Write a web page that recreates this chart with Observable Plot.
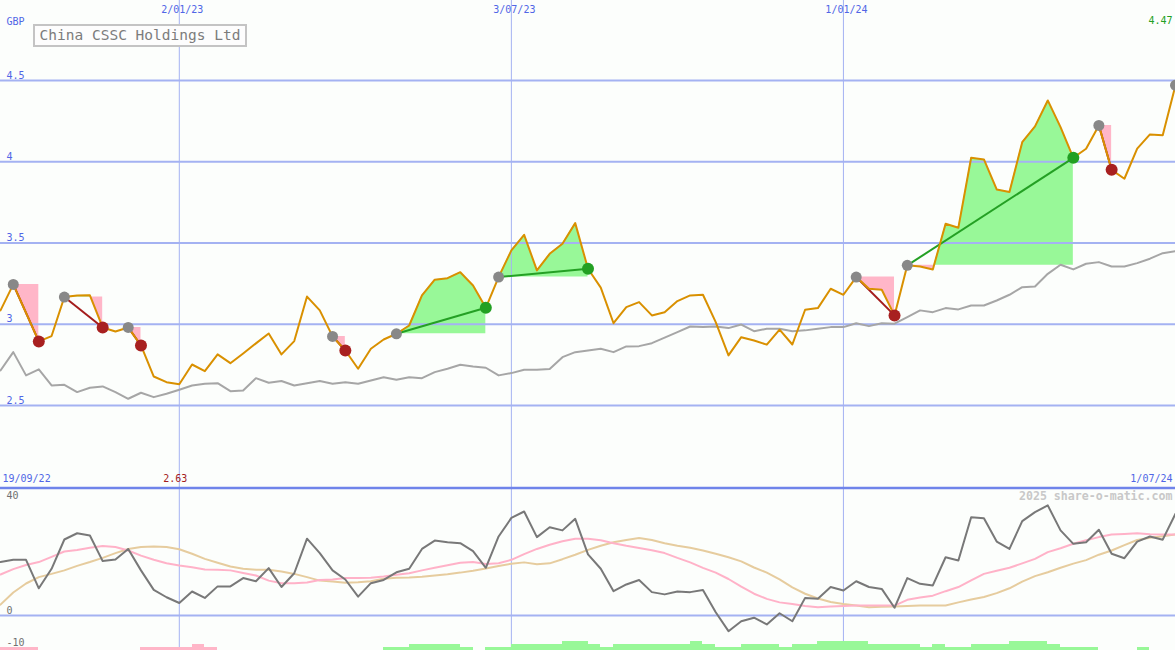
<!DOCTYPE html>
<html><head><meta charset="utf-8">
<script src="https://cdn.jsdelivr.net/npm/d3@7"></script>
<script src="https://cdn.jsdelivr.net/npm/@observablehq/plot@0.6"></script>
<style>
html,body{margin:0;padding:0;background:#fcfefc;}
#wrap{position:relative;width:1175px;height:650px;overflow:hidden;}
#wrap svg{display:block;}
#title{position:absolute;z-index:2;left:33px;top:24px;width:210px;height:19px;border:2px solid #c4c4c4;background:#fdfdfd;font:14.5px "DejaVu Sans Mono",monospace;color:#7c7c7c;line-height:19px;text-align:center;white-space:nowrap;}
</style></head><body>
<div id="wrap"><div id="title">China CSSC Holdings Ltd</div></div>
<script>
// ---- data (weekly, starting 26/09/22) ----
const firstWeek = "2022-09-26";
const price = [3.085,3.245,3.07,2.894,2.927,3.167,3.176,3.178,2.98,2.955,2.98,2.869,2.678,2.643,2.63,2.752,2.711,2.814,2.76,2.82,2.882,2.943,2.814,2.896,3.17,3.085,2.925,2.838,2.726,2.849,2.906,2.941,2.992,3.177,3.274,3.283,3.32,3.238,3.101,3.29,3.454,3.55,3.331,3.433,3.495,3.622,3.341,3.225,3.006,3.105,3.136,3.054,3.074,3.142,3.177,3.181,3.013,2.808,2.92,2.9,2.874,2.966,2.875,3.089,3.099,3.218,3.181,3.29,3.218,3.212,3.054,3.362,3.355,3.337,3.618,3.594,4.024,4.014,3.829,3.813,4.12,4.217,4.377,4.213,4.024,4.08,4.223,3.95,3.895,4.08,4.168,4.162,4.47];
const movingAvg = [2.715,2.828,2.685,2.722,2.623,2.627,2.582,2.609,2.617,2.582,2.541,2.578,2.551,2.572,2.597,2.623,2.633,2.637,2.588,2.592,2.668,2.64,2.65,2.623,2.637,2.65,2.633,2.643,2.633,2.654,2.674,2.658,2.674,2.668,2.705,2.726,2.75,2.74,2.732,2.685,2.699,2.72,2.72,2.724,2.797,2.828,2.838,2.849,2.828,2.863,2.865,2.883,2.917,2.951,2.986,2.982,2.986,2.976,2.998,2.957,2.972,2.972,2.957,2.962,2.972,2.982,2.982,3.006,2.988,3.006,3.003,3.043,3.085,3.074,3.099,3.091,3.115,3.115,3.146,3.181,3.228,3.232,3.31,3.366,3.337,3.372,3.382,3.355,3.355,3.376,3.403,3.437,3.449];
const oscillator = [16.7,17.4,17.4,8.5,14.6,23.75,25.7,25,17,17.5,20.8,14.1,8.0,5.7,3.9,7.5,5.5,9.1,9.1,11.7,10.7,14.8,8.9,13.2,24.0,19.5,14.1,11.25,5.9,10.1,11.1,13.5,14.6,20.8,23.4,22.9,22.6,20.1,14.9,24.7,30.5,32.5,24.5,27.6,26.6,30.2,19.1,14.6,7.6,9.7,11.1,7.3,6.6,7.5,7.3,8.0,1.0,-4.9,-1.8,-0.7,-2.8,0.7,-1.8,5.5,5.2,8.9,7.8,10.7,8.9,8.3,2.4,11.7,9.9,9.4,18.2,17.2,30.7,30.4,23.1,20.8,29.5,32.3,34.4,26.6,22.4,22.9,26.8,19.3,17.9,23.1,24.7,23.7,31.8];
const oscFast = [12.8,14.5,15.8,16.7,18.3,20.0,20.5,21.2,21.7,21.4,20.3,18.7,17.4,16.3,15.6,15.1,14.4,14.3,14.1,13.3,12.5,10.9,10.1,10.1,10.3,11.1,11.25,11.7,11.7,11.8,12.2,12.7,13.2,14.1,14.9,15.7,16.5,16.7,16.1,16.3,17.4,19.2,20.8,22.1,23.2,24,24,23.5,22.6,21.8,21.1,20.4,19.5,18.0,16.6,14.9,13.4,11.4,9.0,6.8,5.2,4.1,3.6,3.0,2.6,2.8,3.0,3.1,3.1,3.1,3.1,4.9,5.6,6.2,7.6,8.9,11.0,13.0,14.0,14.9,16.3,17.7,19.8,21.0,22.4,23.5,24.5,25.3,25.5,25.7,25.4,25.3,25.3];
const oscSlow = [3.4,7.2,10.0,12.0,13.0,14.1,15.5,16.7,18.0,19.5,20.8,21.4,21.6,21.4,20.7,19.3,17.7,16.5,15.3,14.6,14.3,14.3,13.75,13.0,12.0,10.9,10.6,10.2,10.4,10.7,11.5,11.8,11.9,12.1,12.5,12.9,13.4,14.0,14.7,15.5,16.2,16.6,16.0,16.3,17.6,19.0,20.5,21.8,22.9,23.6,24.2,23.6,22.6,21.8,21.2,20.3,19.3,18.2,16.9,15.0,13.4,11.3,8.8,6.8,5.3,4.2,3.6,3.1,2.6,2.7,2.8,3.0,3.1,3.1,3.1,4.1,5.0,5.8,7.0,8.5,10.6,12.3,13.5,14.9,16.2,17.3,19.0,20.3,22.0,23.6,24.3,24.8,25.3];
// signed strength per week interval (green > 0, pink < 0)
const strength = [-1,-1,-1,0,0,0,0,0,0,0,0,-1,-1,-1,-1,-2,-1,0,0,0,0,0,0,0,0,0,0,0,0,0,1,1,2,2,2,2,1,0,1,1,2,2,2,2,3,3,2,1,2,2,2,2,2,2,3,2,1,1,2,2,2,1,2,2,3,3,3,3,2,2,2,2,1,2,1,1,2,2,2,3,3,3,2,1,1,1,0,0,0,1,0,0];
const signalType = ["sell","sell","sell","sell","buy","buy","sell","buy","sell"];
const signalStart = [1,5,10,26,31,39,67,71,86];
const signalEnd = [3,8,11,27,38,46,70,84,87];
const openSignal = [92];
const gridDates = ["2023-01-02","2023-07-03","2024-01-01"];
const gridLabels = ["2/01/23","3/07/23","1/01/24"];
const priceTicks = [2.5,3,3.5,4,4.5];
const priceTickLabels = ["2.5","3","3.5","4","4.5"];
const periodLabels = ["19/09/22","1/07/24"];
const currency = "GBP";
const watermark = "2025 share-o-matic.com";

// ---- styling ----
const BG = "#fcfefc", GRID = "#a4b2f2", LABEL = "#5066e6", MONO = "DejaVu Sans Mono";
const W = 1175, H1 = 487, H2 = 163;

const t0 = new Date(firstWeek + "T00:00:00Z");
const dates = price.map((_, i) => d3.utcDay.offset(t0, 7 * i));
const grid = gridDates.map(d => new Date(d + "T00:00:00Z"));
const xScale = {type: "utc", domain: [dates[0], dates[dates.length - 1]], axis: null};

const series = price.map((p, i) => ({t: dates[i], p, ma: movingAvg[i], o: oscillator[i], f: oscFast[i], s: oscSlow[i]}));

// signal fill between price and start level (green above, pink below)
const fillPts = [];
signalStart.forEach((a, si) => {
  const b = signalEnd[si], L = price[a];
  for (let k = a; k <= b; k++) {
    fillPts.push({id: si, t: dates[k], L, p: price[k]});
    if (k < b) {
      const p0 = price[k], p1 = price[k + 1];
      if ((p0 - L) * (p1 - L) < 0) {
        const f = (L - p0) / (p1 - p0);
        fillPts.push({id: si, t: new Date(+dates[k] + f * (dates[k + 1] - dates[k])), L, p: L});
      }
    }
  }
});
const signals = signalStart.map((a, si) => ({type: signalType[si], a, b: signalEnd[si]}));
const startPts = signalStart.concat(openSignal).map(k => ({t: dates[k], p: price[k]}));
const sellEnds = signals.filter(s => s.type === "sell").map(s => ({t: dates[s.b], p: price[s.b]}));
const buyEnds = signals.filter(s => s.type === "buy").map(s => ({t: dates[s.b], p: price[s.b]}));
const minIdx = d3.minIndex(price), lastIdx = price.length - 1;

const txt = {fontFamily: MONO, fontSize: 10, lineAnchor: "middle"};

const priceChart = Plot.plot({
  width: W, height: H1, marginTop: 0, marginBottom: 0, marginLeft: 0, marginRight: 0,
  x: xScale,
  y: {domain: [1.995, 4.992], axis: null},
  style: {background: BG, overflow: "visible"},
  marks: [
    Plot.areaY(fillPts, {x: "t", y1: "L", y2: d => Math.max(d.p, d.L), z: "id", fill: "#98f898"}),
    Plot.areaY(fillPts, {x: "t", y1: "L", y2: d => Math.min(d.p, d.L), z: "id", fill: "#ffb6c8"}),
    Plot.ruleY(priceTicks, {stroke: GRID, strokeWidth: 2}),
    Plot.ruleX(grid, {stroke: GRID, strokeWidth: 1}),
    Plot.line(series, {x: "t", y: "ma", stroke: "#a6a6a6", strokeWidth: 2}),
    Plot.link(signals, {x1: s => dates[s.a], y1: s => price[s.a], x2: s => dates[s.b], y2: s => price[s.b],
      stroke: s => s.type === "sell" ? "#a41c1c" : "#24a024", strokeWidth: 2}),
    Plot.line(series, {x: "t", y: "p", stroke: "#d99000", strokeWidth: 2}),
    Plot.dot(startPts, {x: "t", y: "p", r: 5.5, fill: "#888888"}),
    Plot.dot(sellEnds, {x: "t", y: "p", r: 6, fill: "#a82020"}),
    Plot.dot(buyEnds, {x: "t", y: "p", r: 6, fill: "#22a022"}),
    Plot.text(grid, {x: d => d, text: (d, i) => gridLabels[i], frameAnchor: "top", dy: 9, dx: 3, fill: LABEL, ...txt}),
    Plot.text(priceTicks, {y: d => d, text: (d, i) => priceTickLabels[i], frameAnchor: "left", textAnchor: "start", dx: 6, dy: -5, fill: LABEL, ...txt}),
    Plot.text([currency], {text: d => d, frameAnchor: "top-left", textAnchor: "start", dx: 6, dy: 21, fill: LABEL, ...txt}),
    Plot.text([lastIdx], {x: i => dates[i], text: i => price[i].toFixed(2), frameAnchor: "top", textAnchor: "end", dx: -3, dy: 20, fill: "#22a022", ...txt}),
    Plot.text([periodLabels[0]], {text: d => d, frameAnchor: "bottom-left", textAnchor: "start", dx: 2, dy: -9, fill: LABEL, ...txt}),
    Plot.text([periodLabels[1]], {text: d => d, frameAnchor: "bottom-right", textAnchor: "end", dx: -3, dy: -9, fill: LABEL, ...txt}),
    Plot.text([minIdx], {x: i => dates[i], text: i => price[i].toFixed(2), frameAnchor: "bottom", dx: -4, dy: -9, fill: "#a41c1c", ...txt})
  ]
});

const OSC_MIN = -10.94, OSC_MAX = 40, BAR_UNIT = 0.94;
const bars = strength.map((v, k) => ({k, v})).filter(d => d.v !== 0);

const oscChart = Plot.plot({
  width: W, height: H2, marginTop: 0, marginBottom: 0, marginLeft: 0, marginRight: 0,
  x: xScale,
  y: {domain: [OSC_MIN, OSC_MAX], axis: null},
  style: {background: BG, overflow: "visible"},
  marks: [
    Plot.ruleY([0], {stroke: GRID, strokeWidth: 2}),
    Plot.ruleX(grid, {stroke: GRID, strokeWidth: 1}),
    Plot.rect(bars, {x1: d => dates[d.k], x2: d => dates[d.k + 1], y1: OSC_MIN, y2: d => OSC_MIN + Math.abs(d.v) * BAR_UNIT,
      fill: d => d.v > 0 ? "#98f898" : "#ffb6c8", shapeRendering: "crispEdges"}),
    Plot.line(series, {x: "t", y: "s", stroke: "#e6cc9e", strokeWidth: 2}),
    Plot.line(series, {x: "t", y: "f", stroke: "#ffb2c8", strokeWidth: 2}),
    Plot.line(series, {x: "t", y: "o", stroke: "#787878", strokeWidth: 2}),
    Plot.ruleY([OSC_MAX], {stroke: "#6f84ea", strokeWidth: 2.5, dy: 0.5}),
    Plot.text([40], {y: d => d, text: d => String(d), frameAnchor: "left", textAnchor: "start", dx: 6, dy: 8, fill: "#707070", ...txt}),
    Plot.text([0, -10], {y: d => d, text: d => String(d), frameAnchor: "left", textAnchor: "start", dx: 6, dy: -5, fill: "#707070", ...txt}),
    Plot.text([watermark], {text: d => d, frameAnchor: "top-right", textAnchor: "end", dx: -3, dy: 9, fill: "#c8c8c8", fontWeight: "bold", fontFamily: MONO, fontSize: 11.6, lineAnchor: "middle"})
  ]
});

const wrap = document.getElementById("wrap");
wrap.appendChild(priceChart);
wrap.appendChild(oscChart);
</script></body></html>
